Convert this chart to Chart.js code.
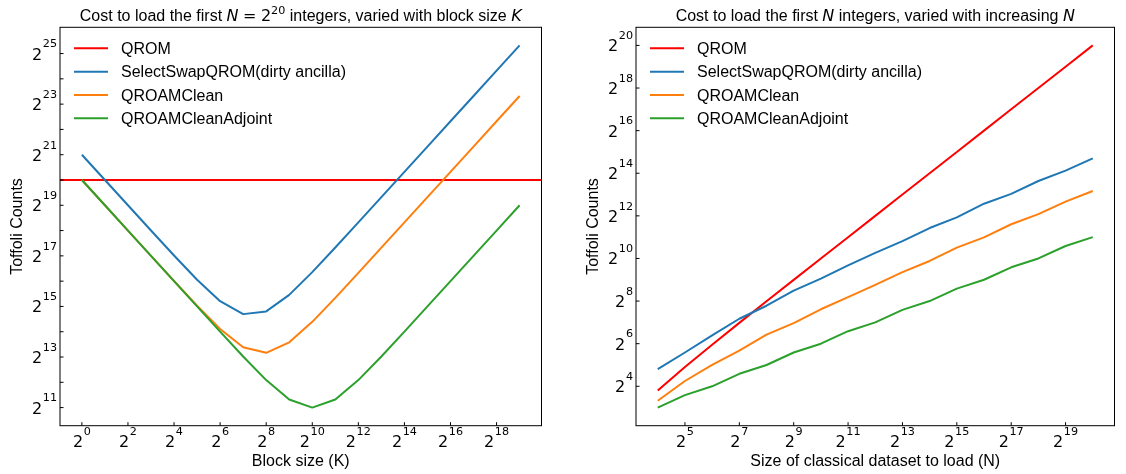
<!DOCTYPE html>
<html><head><meta charset="utf-8">
<script src="https://cdn.jsdelivr.net/npm/chart.js@4.4.0/dist/chart.umd.min.js"></script>
<style>
html,body{margin:0;padding:0;background:#fff;}
#wrap{position:relative;width:1126px;height:474px;background:#fff;}
canvas{position:absolute;left:0;top:0;}
</style></head><body>
<div id="wrap"><canvas id="c1" width="1126" height="474"></canvas><canvas id="c2" width="1126" height="474"></canvas></div>
<script>
// ---------- data: left panel (N = 2^20, varying block size K) ----------
const blockSizes = [1, 2, 4, 8, 16, 32, 64, 128, 256, 512, 1024, 2048, 4096, 8192, 16384, 32768, 65536, 131072, 262144, 524288];
const qromFixedN = 1048574;
const selectSwapByK = [2097148, 1048652, 524524, 262700, 132268, 68012, 37804, 26540, 28588, 44972, 83884, 164780, 328108, 655532, 1310764, 2621420, 5242828, 10485692, 20971444, 41942960];
const qroamCleanByK = [1048574, 524306, 262202, 131210, 65834, 33386, 17642, 10730, 9194, 12266, 21482, 41450, 82154, 163946, 327722, 655370, 1310714, 2621426, 5242862, 10485740];
const qroamAdjointByK = [1048577, 524290, 262148, 131080, 65552, 32800, 16448, 8320, 4352, 2560, 2048, 2560, 4352, 8320, 16448, 32800, 65552, 131080, 262148, 524290];

// ---------- data: right panel (varying N) ----------
const datasetSizes = [16, 32, 64, 128, 256, 512, 1024, 2048, 4096, 8192, 16384, 32768, 65536, 131072, 262144, 524288, 1048576];
const qromByN = [14, 30, 62, 126, 254, 510, 1022, 2046, 4094, 8190, 16382, 32766, 65534, 131070, 262142, 524286, 1048574];
const selectSwapByN = [28, 48, 84, 144, 220, 360, 532, 816, 1228, 1800, 2756, 3904, 6076, 8376, 12724, 17840, 26540];
const qroamCleanByN = [10, 19, 32, 51, 86, 125, 196, 291, 434, 657, 944, 1455, 2030, 3117, 4332, 6507, 9194];
const qroamAdjointByN = [8, 12, 16, 24, 32, 48, 64, 96, 128, 192, 256, 384, 512, 768, 1024, 1536, 2048];

const seriesNames = ['QROM', 'SelectSwapQROM(dirty ancilla)', 'QROAMClean', 'QROAMCleanAdjoint'];
const seriesColors = ['#ff0000', '#1f77b4', '#ff7f0e', '#2ca02c'];

// ---------- tick exponents (base 2) ----------
const leftXTickExps = [0, 2, 4, 6, 8, 10, 12, 14, 16, 18];
const leftYTickExps = [11, 12, 13, 14, 15, 16, 17, 18, 19, 20, 21, 22, 23, 24, 25];
const leftYLabelExps = [11, 13, 15, 17, 19, 21, 23, 25];
const rightXTickExps = [5, 7, 9, 11, 13, 15, 17, 19];
const rightYTickExps = [4, 6, 8, 10, 12, 14, 16, 18, 20];

const TXT = '16px "Liberation Sans", Arial, sans-serif';
const MATH = '16px "DejaVu Sans"';
const MATH_IT = 'oblique 16px "DejaVu Sans"';
const MATH_SUP = '11.2px "DejaVu Sans"';
const TICK = '16px "DejaVu Sans"';
const TICK_SUP = '11.2px "DejaVu Sans"';

function powLabel(ctx, e, x, baseY, mode) {
  ctx.font = TICK; const w1 = ctx.measureText('2').width;
  ctx.font = TICK_SUP; const w2 = ctx.measureText(String(e)).width;
  const gap = 0.6;
  const tw = w1 + gap + w2;
  const sx = mode === 'center' ? x - tw / 2 : x - tw;
  ctx.textAlign = 'left'; ctx.textBaseline = 'alphabetic';
  ctx.font = TICK; ctx.fillText('2', sx, baseY);
  ctx.font = TICK_SUP; ctx.fillText(String(e), sx + w1 + gap, baseY - 12.2);
}

function partFont(p) { return p.sup ? MATH_SUP : (p.it ? MATH_IT : (p.math ? MATH : TXT)); }

function drawParts(ctx, parts, cx, baseY) {
  let total = 0;
  parts.forEach(p => { ctx.font = partFont(p); p.w = ctx.measureText(p.t).width + (p.pad || 0) * 2; total += p.w; });
  let x = cx - total / 2;
  ctx.textAlign = 'left'; ctx.textBaseline = 'alphabetic';
  parts.forEach(p => {
    ctx.font = partFont(p);
    ctx.fillText(p.t, x + (p.pad || 0), p.sup ? baseY - 6.5 : baseY);
    x += p.w;
  });
}

function decor(spec) {
  return {
    id: 'decor',
    afterDraw(chart) {
      const ctx = chart.ctx, a = chart.chartArea, xs = chart.scales.x, ys = chart.scales.y;
      ctx.save();
      ctx.fillStyle = '#000';
      ctx.strokeStyle = '#000';
      ctx.lineWidth = 1;
      ctx.strokeRect(a.left, a.top, a.right - a.left, a.bottom - a.top);
      ctx.beginPath();
      spec.xTicks.forEach(e => { const px = xs.getPixelForValue(Math.pow(2, e)); ctx.moveTo(px, a.bottom); ctx.lineTo(px, a.bottom - 3.5); });
      spec.yTicks.forEach(e => { const py = ys.getPixelForValue(Math.pow(2, e)); ctx.moveTo(a.left, py); ctx.lineTo(a.left + 3.5, py); });
      ctx.stroke();
      spec.xTicks.forEach(e => powLabel(ctx, e, xs.getPixelForValue(Math.pow(2, e)), a.bottom + 21, 'center'));
      spec.yLabels.forEach(e => powLabel(ctx, e, a.left - 3, ys.getPixelForValue(Math.pow(2, e)) + 6, 'right'));
      // legend
      const rows = [48.3, 71.7, 95, 118.3];
      seriesNames.forEach((name, i) => {
        ctx.strokeStyle = seriesColors[i]; ctx.lineWidth = 2;
        ctx.beginPath(); ctx.moveTo(a.left + 14, rows[i]); ctx.lineTo(a.left + 48, rows[i]); ctx.stroke();
        ctx.font = TXT; ctx.textAlign = 'left'; ctx.textBaseline = 'alphabetic';
        ctx.fillText(name, a.left + 61, rows[i] + 5.7);
      });
      const cx = (a.left + a.right) / 2;
      drawParts(ctx, spec.title, cx, 20.7);
      ctx.font = TXT; ctx.textAlign = 'center'; ctx.textBaseline = 'alphabetic';
      ctx.fillText(spec.xLabel, cx, 466);
      ctx.save();
      ctx.translate(a.left - 38.5, (a.top + a.bottom) / 2);
      ctx.rotate(-Math.PI / 2);
      ctx.fillText('Toffoli Counts', 0, 0);
      ctx.restore();
      ctx.restore();
    }
  };
}

function ds(i, data) {
  return { label: seriesNames[i], data, borderColor: seriesColors[i], backgroundColor: seriesColors[i],
    borderWidth: 2, pointRadius: 0, fill: false, tension: 0, order: 3 - i, borderJoinStyle: 'round' };
}

function makeChart(id, datasets, xr, yr, pad, spec) {
  const fix = r => s => { s.min = r[0]; s.max = r[1]; };
  return new Chart(document.getElementById(id), {
    type: 'line',
    data: { datasets },
    options: {
      responsive: false, animation: false, events: [],
      layout: { padding: pad },
      plugins: { legend: { display: false }, tooltip: { enabled: false }, title: { display: false } },
      scales: {
        x: { type: 'logarithmic', display: false, min: xr[0], max: xr[1], afterBuildTicks: fix(xr) },
        y: { type: 'logarithmic', display: false, min: yr[0], max: yr[1], afterBuildTicks: fix(yr) }
      }
    },
    plugins: [decor(spec)]
  });
}

const leftXRange = [Math.pow(2, -0.95), Math.pow(2, 19.95)];
const leftYRange = [Math.pow(2, 10.284), Math.pow(2, 26.038)];
const rightXRange = [Math.pow(2, 3.2), Math.pow(2, 20.8)];
const rightYRange = [Math.pow(2, 2.15), Math.pow(2, 20.85)];

const pts = (xsArr, ysArr) => xsArr.map((x, i) => ({ x, y: ysArr[i] }));

makeChart('c1', [
  ds(0, [{ x: leftXRange[0], y: qromFixedN }, { x: leftXRange[1], y: qromFixedN }]),
  ds(1, pts(blockSizes, selectSwapByK)),
  ds(2, pts(blockSizes, qroamCleanByK)),
  ds(3, pts(blockSizes, qroamAdjointByK))
], leftXRange, leftYRange, { left: 60, right: 1126 - 541.5, top: 27.3, bottom: 474 - 425.7 }, {
  xTicks: leftXTickExps, yTicks: leftYTickExps, yLabels: leftYLabelExps,
  xLabel: 'Block size (K)',
  title: [{ t: 'Cost to load the first ' }, { t: 'N', it: true }, { t: '=', math: true, pad: 4.5 }, { t: '2', math: true }, { t: '20', sup: true }, { t: ' integers, varied with block size ' }, { t: 'K', it: true }]
});

makeChart('c2', [
  ds(0, pts(datasetSizes, qromByN)),
  ds(1, pts(datasetSizes, selectSwapByN)),
  ds(2, pts(datasetSizes, qroamCleanByN)),
  ds(3, pts(datasetSizes, qroamAdjointByN))
], rightXRange, rightYRange, { left: 636, right: 1126 - 1114.5, top: 27.3, bottom: 474 - 425.7 }, {
  xTicks: rightXTickExps, yTicks: rightYTickExps, yLabels: rightYTickExps,
  xLabel: 'Size of classical dataset to load (N)',
  title: [{ t: 'Cost to load the first ' }, { t: 'N', it: true }, { t: ' integers, varied with increasing ' }, { t: 'N', it: true }]
});
</script>
</body></html>
